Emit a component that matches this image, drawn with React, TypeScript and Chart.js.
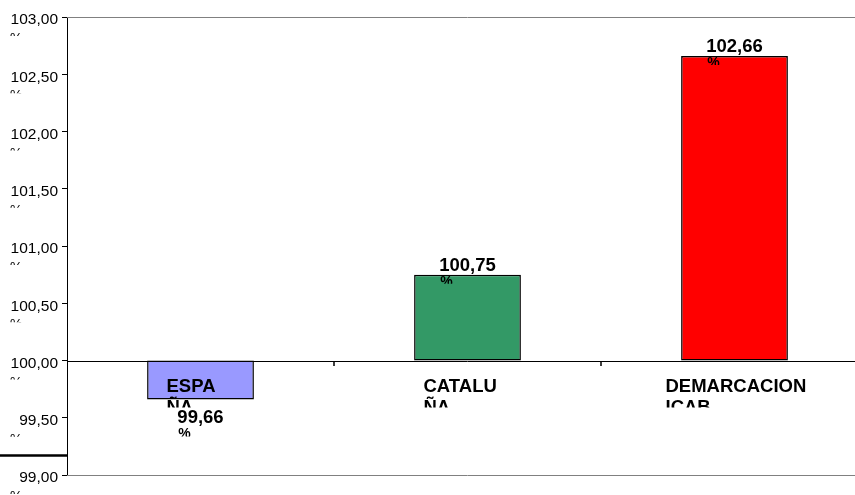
import React, { useEffect, useRef } from "react";
import { Chart, registerables } from "chart.js";

Chart.register(...registerables);

const categories: string[][] = [["ESPA", "ÑA"], ["CATALU", "ÑA"], ["DEMARCACION", "ICAB"]];
const values: number[] = [99.66, 100.75, 102.66];
const valueLabels: string[] = ["99,66", "100,75", "102,66"];
const barColors: string[] = ["#9999FF", "#339966", "#FF0000"];
const labelOffsets: number[] = [-34, -44, -69];
const baseValue = 100;
const yMin = 99;
const yMax = 103;
const yStep = 0.5;

const FONT = "'Liberation Sans', Arial, sans-serif";

const fmt = (v: number) => v.toFixed(2).replace(".", ",");

const overlay = {
  id: "overlay",
  beforeDatasetsDraw(chart: any) {
    const { ctx, chartArea, scales } = chart;
    const y = scales.y;
    const x = scales.x;
    ctx.save();
    ctx.strokeStyle = "#808080";
    ctx.lineWidth = 1;
    ctx.beginPath();
    ctx.moveTo(chartArea.left, Math.round(chartArea.top) + 0.5);
    ctx.lineTo(chartArea.right, Math.round(chartArea.top) + 0.5);
    ctx.moveTo(chartArea.left, Math.round(chartArea.bottom) + 0.5);
    ctx.lineTo(chartArea.right, Math.round(chartArea.bottom) + 0.5);
    ctx.stroke();
    const y0 = Math.round(y.getPixelForValue(baseValue)) + 0.5;
    ctx.strokeStyle = "#000";
    ctx.beginPath();
    ctx.moveTo(chartArea.left, y0);
    ctx.lineTo(chartArea.right, y0);
    ctx.stroke();
    ctx.lineWidth = 1.5;
    ctx.beginPath();
    for (let i = 0; i < categories.length - 1; i++) {
      const xm = Math.round((x.getPixelForValue(i) + x.getPixelForValue(i + 1)) / 2);
      ctx.moveTo(xm, y0);
      ctx.lineTo(xm, y0 + 4.5);
    }
    ctx.stroke();
    ctx.lineWidth = 2.5;
    ctx.beginPath();
    ctx.moveTo(0, y.getPixelForValue(99.17));
    ctx.lineTo(chartArea.left, y.getPixelForValue(99.17));
    ctx.stroke();
    ctx.restore();
  },
  afterDatasetsDraw(chart: any) {
    const { ctx, scales } = chart;
    const y = scales.y;
    const x = scales.x;
    const y0 = y.getPixelForValue(baseValue);
    ctx.save();
    ctx.fillStyle = "#000";
    ctx.save();
    ctx.beginPath();
    ctx.rect(0, y0, chart.width, 47);
    ctx.clip();
    ctx.font = `bold 18.5px ${FONT}`;
    ctx.textBaseline = "alphabetic";
    ctx.textAlign = "left";
    categories.forEach((lines, i) => {
      const cx = x.getPixelForValue(i) + labelOffsets[i];
      lines.forEach((ln, j) => {
        ctx.fillText(ln, cx, y0 + 31 + j * 21);
      });
    });
    ctx.restore();
    values.forEach((v, i) => {
      const cx = x.getPixelForValue(i);
      const yv = y.getPixelForValue(v);
      ctx.font = `bold 18.5px ${FONT}`;
      ctx.textAlign = "center";
      const base = v >= baseValue ? yv - 4 : yv + 24;
      ctx.fillText(valueLabels[i], cx, base);
      const w = ctx.measureText(valueLabels[i]).width;
      ctx.save();
      ctx.beginPath();
      ctx.rect(cx - w / 2 - 2, base + 3, 30, 10);
      ctx.clip();
      ctx.font = `bold 14px ${FONT}`;
      ctx.textAlign = "left";
      ctx.fillText("%", cx - w / 2 + 1, base + 15);
      ctx.restore();
    });
    y.ticks.forEach((t: any) => {
      const py = y.getPixelForValue(t.value);
      ctx.save();
      ctx.beginPath();
      ctx.rect(0, py + 13, 40, 6);
      ctx.clip();
      ctx.font = `14px ${FONT}`;
      ctx.textAlign = "left";
      ctx.fillText("%", 10, py + 26);
      ctx.restore();
    });
    ctx.restore();
  },
};

export default function App() {
  const ref = useRef<HTMLCanvasElement | null>(null);
  useEffect(() => {
    if (!ref.current) return;
    const chart = new Chart(ref.current, {
      type: "bar",
      data: {
        labels: categories.map((c) => c.join("")),
        datasets: [
          {
            data: values.map((v) => [baseValue, v]) as any,
            backgroundColor: barColors,
            borderColor: "#000",
            borderWidth: 1.5,
            borderSkipped: false,
            categoryPercentage: 1,
            barPercentage: 0.4,
          },
        ],
      },
      options: {
        animation: false,
        responsive: false,
        devicePixelRatio: 1,
        layout: { padding: { top: 17, bottom: 20, left: 0, right: 0 } },
        plugins: { legend: { display: false }, tooltip: { enabled: false } },
        scales: {
          x: { type: "category", display: false, offset: true },
          y: {
            min: yMin,
            max: yMax,
            ticks: {
              stepSize: yStep,
              callback: (v: any) => fmt(Number(v)),
              color: "#000",
              font: { family: FONT, size: 15.5 },
              padding: 4,
              labelOffset: 3,
            },
            grid: { drawOnChartArea: false, drawTicks: true, tickLength: 5, color: "#000" },
            border: { display: true, color: "#000", width: 1 },
            afterFit: (s: any) => {
              s.width = 67;
            },
          },
        },
      },
      plugins: [overlay],
    });
    return () => chart.destroy();
  }, []);
  return (
    <div style={{ position: "fixed", left: 0, top: 0, width: 855, height: 495, overflow: "hidden", background: "#fff" }}>
      <canvas ref={ref} width={868} height={495} style={{ display: "block" }} />
    </div>
  );
}
